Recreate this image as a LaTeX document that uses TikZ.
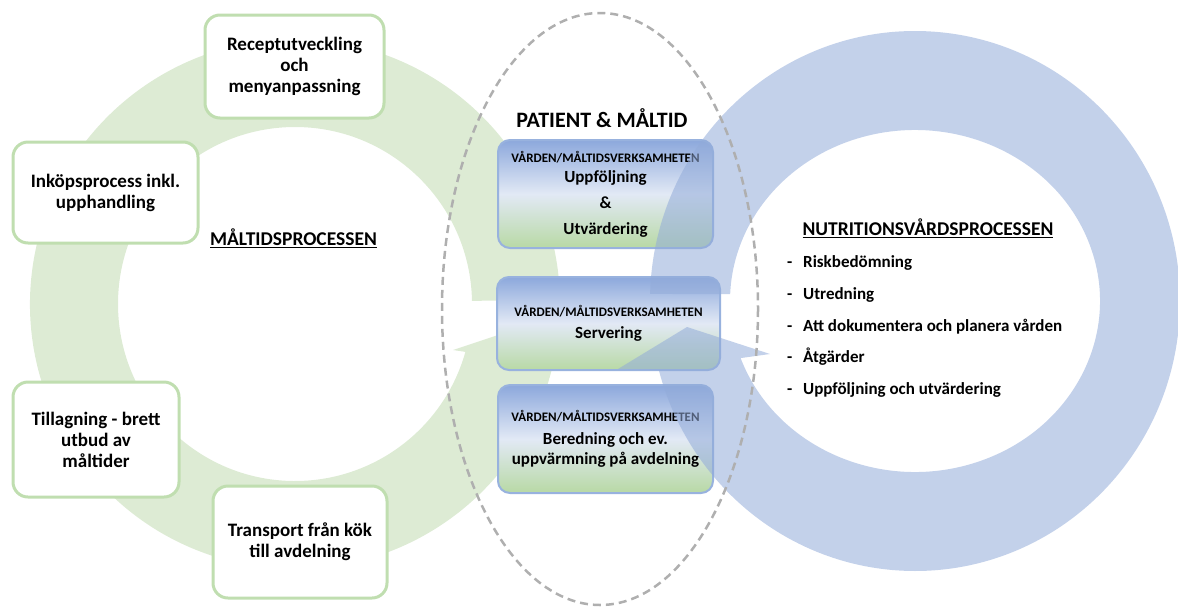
\documentclass[tikz,border=0pt]{standalone}
\usepackage{fontspec}
\setmainfont{Carlito}
\usetikzlibrary{calc}
\definecolor{ringgreen}{RGB}{221,235,212}
\definecolor{boxedge}{RGB}{192,222,176}
\definecolor{ringblue}{RGB}{146,171,217}
\definecolor{cboxtop}{RGB}{140,168,220}
\definecolor{cboxmid}{RGB}{226,233,245}
\definecolor{cboxbot}{RGB}{184,217,165}
\definecolor{cboxedge}{RGB}{152,178,222}
\definecolor{dashgray}{RGB}{175,175,175}
\newcommand\boxfont{\fontsize{19}{21}\selectfont\bfseries}
\newcommand\cfont{\fontsize{17}{26}\selectfont\bfseries}
\newcommand\lblfont{\fontsize{13}{14}\selectfont\bfseries}
\newcommand\headfont{\fontsize{19.5}{22}\selectfont\bfseries}
\newcommand\listfont{\fontsize{17}{20}\selectfont\bfseries}
\begin{document}
\begin{tikzpicture}[x=1pt,y=-1pt,
  pbox/.style={draw=boxedge, line width=3pt, fill=white, rounded corners=15pt,
    align=center, font=\boxfont, inner sep=2pt},
  cbox/.style={draw=cboxedge, line width=2pt, rounded corners=12pt,
    top color=cboxtop, bottom color=cboxbot, middle color=cboxmid,
    align=center, font=\cfont, inner sep=2pt},
  greenring/.style={fill=ringgreen},
  bluering/.style={fill=ringblue, fill opacity=0.55},
  dashline/.style={draw=dashgray, line width=2.5pt, dash pattern=on 8pt off 5pt},
  listitem/.style={anchor=mid west, font=\listfont, inner sep=0pt}]
\useasboundingbox (0,0) rectangle (1178,606);
%centers of the rings
\coordinate (GC) at (295,304); %meal process
\coordinate (BC) at (915,301); %nutrition process
\coordinate (EC) at (600,309); %patient & meal
%arrow heads
\coordinate (G1) at (580,360);
\coordinate (G2) at (525,326);
\coordinate (G3) at (453,350);
\coordinate (B1) at (618,369);
\coordinate (B2) at (687,327);
\coordinate (B3) at (770,354);
%green circular arrow
\fill[greenring] ($(GC)+(11.8:265)$) arc[start angle=11.8, end angle=359, radius=265]
  -- ($(GC)+(359:177)$) arc[start angle=359, end angle=15.7, radius=177]
  -- (G3) -- (G2) -- (G1) -- cycle;
%steps of the meal process
\node[pbox, minimum width=179pt, minimum height=103pt] (recept) at (294.5,66.5) {Receptutveckling\\och\\menyanpassning};
\node[pbox, minimum width=185pt, minimum height=101pt] (inkop) at (105.5,192.5) {Inköpsprocess inkl.\\upphandling};
\node[pbox, minimum width=166pt, minimum height=115pt] (tillag) at (96,439.5) {Tillagning - brett\\utbud av\\måltider};
\node[pbox, minimum width=174pt, minimum height=112pt] (transp) at (300,542) {Transport från kök\\till avdelning};
\node[font=\headfont, inner sep=0pt] (maltid) at (293.5,238) {\underline{MÅLTIDSPROCESSEN}};
%shared steps
\node[font=\fontsize{22}{24}\selectfont\bfseries, inner sep=0pt] (patient) at (602,118) {PATIENT \& MÅLTID};
\node[cbox, minimum width=215pt, minimum height=108pt] (uppf) at (605.5,194)
  {{\lblfont VÅRDEN/MÅLTIDSVERKSAMHETEN}\\[-6pt]Uppföljning\\\&\\Utvärdering};
\node[cbox, minimum width=223pt, minimum height=93pt] (serv) at (608.5,323.5)
  {{\lblfont VÅRDEN/MÅLTIDSVERKSAMHETEN}\\[-4pt]Servering};
\node[cbox, minimum width=215pt, minimum height=108pt] (bered) at (605.5,439)
  {{\lblfont VÅRDEN/MÅLTIDSVERKSAMHETEN}\\[-3pt]Beredning och ev.\\[-6pt]uppvärmning på avdelning};
%blue circular arrow
\fill[bluering] ($(BC)+(181.5:265 and 270)$) arc[start angle=181.5, end angle=525.2, x radius=265, y radius=270]
  -- (B1) -- (B2) -- (B3)
  -- ($(BC)+(520.5:185 and 171)$) arc[start angle=520.5, end angle=182.3, x radius=185, y radius=171] -- cycle;
%nutrition process
\node[font=\headfont, inner sep=0pt] (nutri) at (928,228) {\underline{NUTRITIONSVÅRDSPROCESSEN}};
\node[listitem] (d1) at (787,265) {-};
\node[listitem] (risk) at (803,265) {Riskbedömning};
\node[listitem] (d2) at (787,297) {-};
\node[listitem] (utred) at (803,297) {Utredning};
\node[listitem] (d3) at (787,329) {-};
\node[listitem] (dokum) at (803,329) {Att dokumentera och planera vården};
\node[listitem] (d4) at (787,360) {-};
\node[listitem] (atg) at (803,360) {Åtgärder};
\node[listitem] (d5) at (787,392) {-};
\node[listitem] (uppfl) at (803,392) {Uppföljning och utvärdering};
%dashed frame round the shared steps
\draw[dashline] (EC) ellipse [x radius=158, y radius=296];
\end{tikzpicture}
\end{document}
